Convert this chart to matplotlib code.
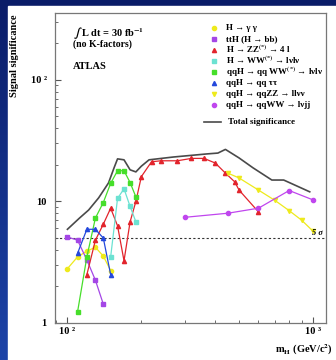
import matplotlib
matplotlib.use("Agg")
import matplotlib.pyplot as plt
import numpy as np
from matplotlib.lines import Line2D
from matplotlib.patches import Rectangle
from matplotlib.ticker import FixedLocator, FixedFormatter, LogLocator, NullFormatter

plt.rcParams['font.family'] = ['Liberation Serif', 'DejaVu Serif']
plt.rcParams['font.weight'] = 'bold'
plt.rcParams['mathtext.fontset'] = 'stix'

# Higgs mass points (GeV) and expected significance, 30 fb-1
m_gg = [100, 110, 120, 130, 140, 150]
s_gg = [2.8, 3.5, 3.9, 4.2, 3.55, 2.7]

m_tth = [100, 110, 120, 130, 140]
s_tth = [5.1, 4.8, 3.3, 2.25, 1.43]

m_zz = [120, 130, 140, 150, 160, 170, 180, 190, 200, 220, 240, 280, 320, 360, 400, 440, 480, 500, 600]
s_zz = [2.5, 4.8, 6.5, 8.8, 6.3, 3.25, 6.8, 10.0, 16.0, 21.2, 21.6, 21.6, 22.6, 22.6, 20.7, 17.1, 14.5, 12.4, 8.2]

m_ww = [150, 160, 170, 180, 190]
s_ww = [3.5, 10.6, 12.7, 9.1, 6.8]

m_qqww = [110, 120, 130, 140, 150, 160, 170, 180, 190]
s_qqww = [1.24, 3.5, 7.3, 9.8, 14.1, 17.9, 17.9, 14.3, 10.9]

m_tautau = [110, 120, 130, 140, 150]
s_tautau = [3.75, 5.9, 5.9, 5.0, 2.5]

m_qqzz = [450, 500, 600, 700, 800, 900, 1000]
s_qqzz = [17.1, 15.6, 12.4, 10.2, 8.4, 7.0, 5.7]

m_lvjj = [300, 450, 600, 800, 1000]
s_lvjj = [7.4, 8.0, 8.8, 12.3, 10.3]

m_tot = [100, 112, 122, 134, 147, 155, 160, 170, 180, 190, 200, 215, 270, 370, 410, 440, 500, 570, 680, 760, 970]
s_tot = [5.9, 7.3, 8.5, 10.7, 14.2, 19.0, 22.4, 22.0, 18.2, 17.5, 19.5, 22.0, 23.2, 24.6, 25.0, 26.8, 22.8, 18.9, 15.0, 15.0, 12.0]

channels = [
    (m_gg, s_gg, '#eeea1c', 'o', "H → γ γ"),
    (m_tth, s_tth, '#a446e6', 's', "ttH (H → bb)"),
    (m_zz, s_zz, '#e2242c', '^', "H → ZZ$^{(*)}$ → 4 l"),
    (m_ww, s_ww, '#6ce2d2', 's', "H → WW$^{(*)}$ → lνlν"),
    (m_qqww, s_qqww, '#46de2a', 's', "qqH → qq WW$^{(*)}$ → lνlν"),
    (m_tautau, s_tautau, '#2448dc', '^', "qqH → qq ττ"),
    (m_qqzz, s_qqzz, '#eeea1c', 'v', "qqH → qqZZ → llνν"),
    (m_lvjj, s_lvjj, '#c046ee', 'o', "qqH → qqWW → lνjj"),
]
tot_color = '#4a4a4a'

W, H = 336, 360
fig = plt.figure(figsize=(W / 100, H / 100), dpi=100)
fig.patch.set_facecolor('#0c2478')

# blue frame fading lighter toward the bottom
bg = fig.add_axes([0, 0, 1, 1], zorder=-2)
grad = np.linspace(0, 1, 256).reshape(-1, 1)
bg.imshow(grad, aspect='auto', extent=[0, 1, 0, 1], origin='upper',
          cmap=matplotlib.colors.LinearSegmentedColormap.from_list('b', ['#0a1c68', '#1d44a8']))
bg.add_patch(Rectangle((8 / W, 0), 1, 1 - 6 / H, color='white'))
bg.set_xlim(0, 1)
bg.set_ylim(0, 1)
bg.axis('off')

ax = fig.add_axes([55 / W, 37 / H, 271 / W, 310 / H])
ax.set_xscale('log')
ax.set_yscale('log')
ax.set_xlim(89, 1130)
ax.set_ylim(1, 355)

for m, s, c, mk, lab in channels:
    ax.plot(m, s, color=c, marker=mk, ms=3, lw=0.9, mec=c, zorder=3)
ax.plot(m_tot, s_tot, color=tot_color, lw=1.2, zorder=2)

ax.axhline(5, color='#333333', lw=0.8, ls=(0, (2, 2)), zorder=1)
ax.text(1045, 5.55, "5 σ", fontsize=6, style='italic', ha='center', va='center')

for sp in ax.spines.values():
    sp.set_color('#777777')
    sp.set_linewidth(0.9)

ax.yaxis.set_major_locator(FixedLocator([1, 10, 100]))
ax.yaxis.set_major_formatter(FixedFormatter(['1', '10', '10 ²']))
ax.yaxis.set_minor_locator(LogLocator(base=10, subs=np.arange(2, 10)))
ax.yaxis.set_minor_formatter(NullFormatter())
ax.xaxis.set_major_locator(FixedLocator([100, 1000]))
ax.xaxis.set_major_formatter(FixedFormatter(['10 ²', '10 ³']))
ax.xaxis.set_minor_locator(LogLocator(base=10, subs=np.arange(2, 10)))
ax.xaxis.set_minor_formatter(NullFormatter())
ax.tick_params(which='both', direction='in', color='#555555', labelsize=7.5)
ax.tick_params(which='major', length=4, width=0.8)
ax.tick_params(which='minor', length=2.5, width=0.6)
ax.tick_params(axis='y', pad=6)
ax.tick_params(axis='x', pad=3)

ax.text(0.066, 0.935, r"$\int$ L dt = 30 fb$^{-1}$", transform=ax.transAxes,
        fontsize=7.5, va='center')
ax.text(0.066, 0.898, "(no K-factors)", transform=ax.transAxes, fontsize=7, va='center')
ax.text(0.066, 0.826, "ATLAS", transform=ax.transAxes, fontsize=7.5, va='center')

# key: one row per channel, then the total curve a bit lower
row0, pitch = 28, 11
for i, (m, s, c, mk, lab) in enumerate(channels):
    yy = 1 - (row0 + pitch * i) / H
    fig.add_artist(Line2D([214 / W], [yy], color=c, marker=mk, ms=3, mec=c,
                          transform=fig.transFigure))
    fig.text(226 / W, yy - 2.4 / H, lab, fontsize=6.5, va='baseline')
yt = 1 - 122 / H
fig.add_artist(Line2D([204 / W, 221 / W], [yt, yt], color=tot_color, lw=1.2,
                      transform=fig.transFigure))
fig.text(228 / W, yt - 2.4 / H, "Total significance", fontsize=6.5, va='baseline')

fig.text(15 / W, 1 - 56 / H, "Signal significance", rotation=90,
         ha='center', va='center', fontsize=7.5)
fig.text(333 / W, 1 - 350 / H, r"m$_{\mathbf{H}}$ (GeV/c$^{\mathbf{2}}$)",
         ha='right', va='center', fontsize=7.5)

fig.savefig("out.png", dpi=100)
